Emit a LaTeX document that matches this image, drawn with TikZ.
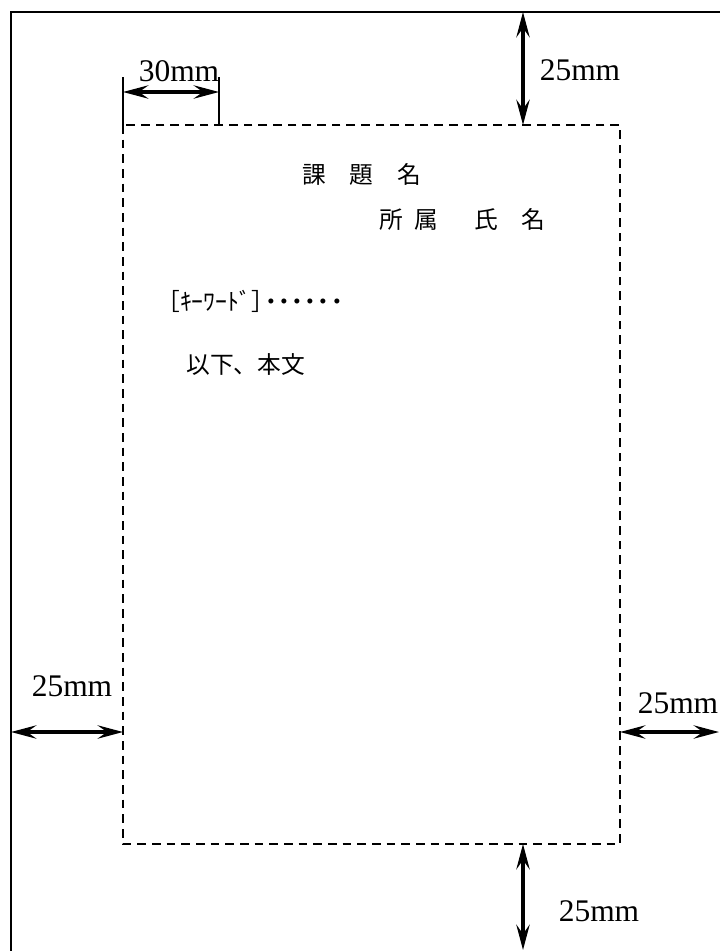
\documentclass[tikz,border=0pt]{standalone}
\usepackage{fontspec}
\setmainfont{Liberation Serif}
\newfontfamily\jafont{Noto Sans CJK JP}
\usetikzlibrary{arrows.meta}

\newcommand\kdot{\kern-.45em・}

\tikzset{
  frame/.style={line width=1.8pt},
  textarea/.style={line width=1.4pt, dash pattern=on 6.5pt off 4.5pt},
  dim/.style={{Stealth[length=19pt,width=10pt,inset=7pt]}-{Stealth[length=19pt,width=10pt,inset=7pt]}, line width=2.6pt},
  tick/.style={line width=1.6pt},
  mm/.style={inner sep=0pt, font=\fontsize{23.6pt}{26pt}\selectfont},
  ja/.style={inner sep=0pt, anchor=west, font=\jafont\fontsize{17.8pt}{20pt}\selectfont}
}

\begin{document}
\begin{tikzpicture}[x=0.75pt, y=-0.75pt]
  \useasboundingbox (0,0) rectangle (720,951);
  \clip (0,0) rectangle (720,951);
  % page and text area
  \coordinate (pg) at (11,12);
  \coordinate (ta-nw) at (123,125);
  \coordinate (ta-se) at (620,844);
  \draw[frame] (pg) rectangle (760,990);
  \draw[textarea] (ta-nw) rectangle (ta-se);

  % ends of the dimension lines
  \coordinate (top-out) at (523,12);
  \coordinate (top-in) at (523,125);
  \coordinate (bot-in) at (523,844);
  \coordinate (bot-out) at (523,950);
  \coordinate (left-out) at (11,732);
  \coordinate (left-in) at (123,732);
  \coordinate (right-in) at (620,732);
  \coordinate (right-out) at (719,732);
  \coordinate (ind-a) at (123,92);
  \coordinate (ind-b) at (219,92);
  \coordinate (tick-a) at (123,77);
  \coordinate (tick-b) at (219,77);
  \coordinate (tick-bb) at (219,125);

  \draw[tick] (tick-a) -- (ta-nw);
  \draw[tick] (tick-b) -- (tick-bb);
  \draw[dim] (ind-a) -- (ind-b);
  \draw[dim] (top-out) -- (top-in);
  \draw[dim] (bot-in) -- (bot-out);
  \draw[dim] (left-out) -- (left-in);
  \draw[dim] (right-in) -- (right-out);

  \node[mm] (lbl-ind) at (179,71) {30mm};
  \node[mm] (lbl-top) at (580,70) {25mm};
  \node[mm] (lbl-left) at (72,686) {25mm};
  \node[mm] (lbl-right) at (678,703) {25mm};
  \node[mm] (lbl-bot) at (599,911) {25mm};

  % contents of the text area
  \node[ja] (title) at (302,174) {課\hspace{1em}題\hspace{1em}名};
  \node[ja] (author) at (379,219) {所\hspace{.5em}属\hspace{1.5em}氏\hspace{1em}名};
  \node[ja] (keywords) at (156,301) {［ｷｰﾜｰﾄﾞ］\kern-.64em・\kdot\kdot\kdot\kdot\kdot};
  \node[ja] (body) at (186,365) {以下、本文};
\end{tikzpicture}
\end{document}
